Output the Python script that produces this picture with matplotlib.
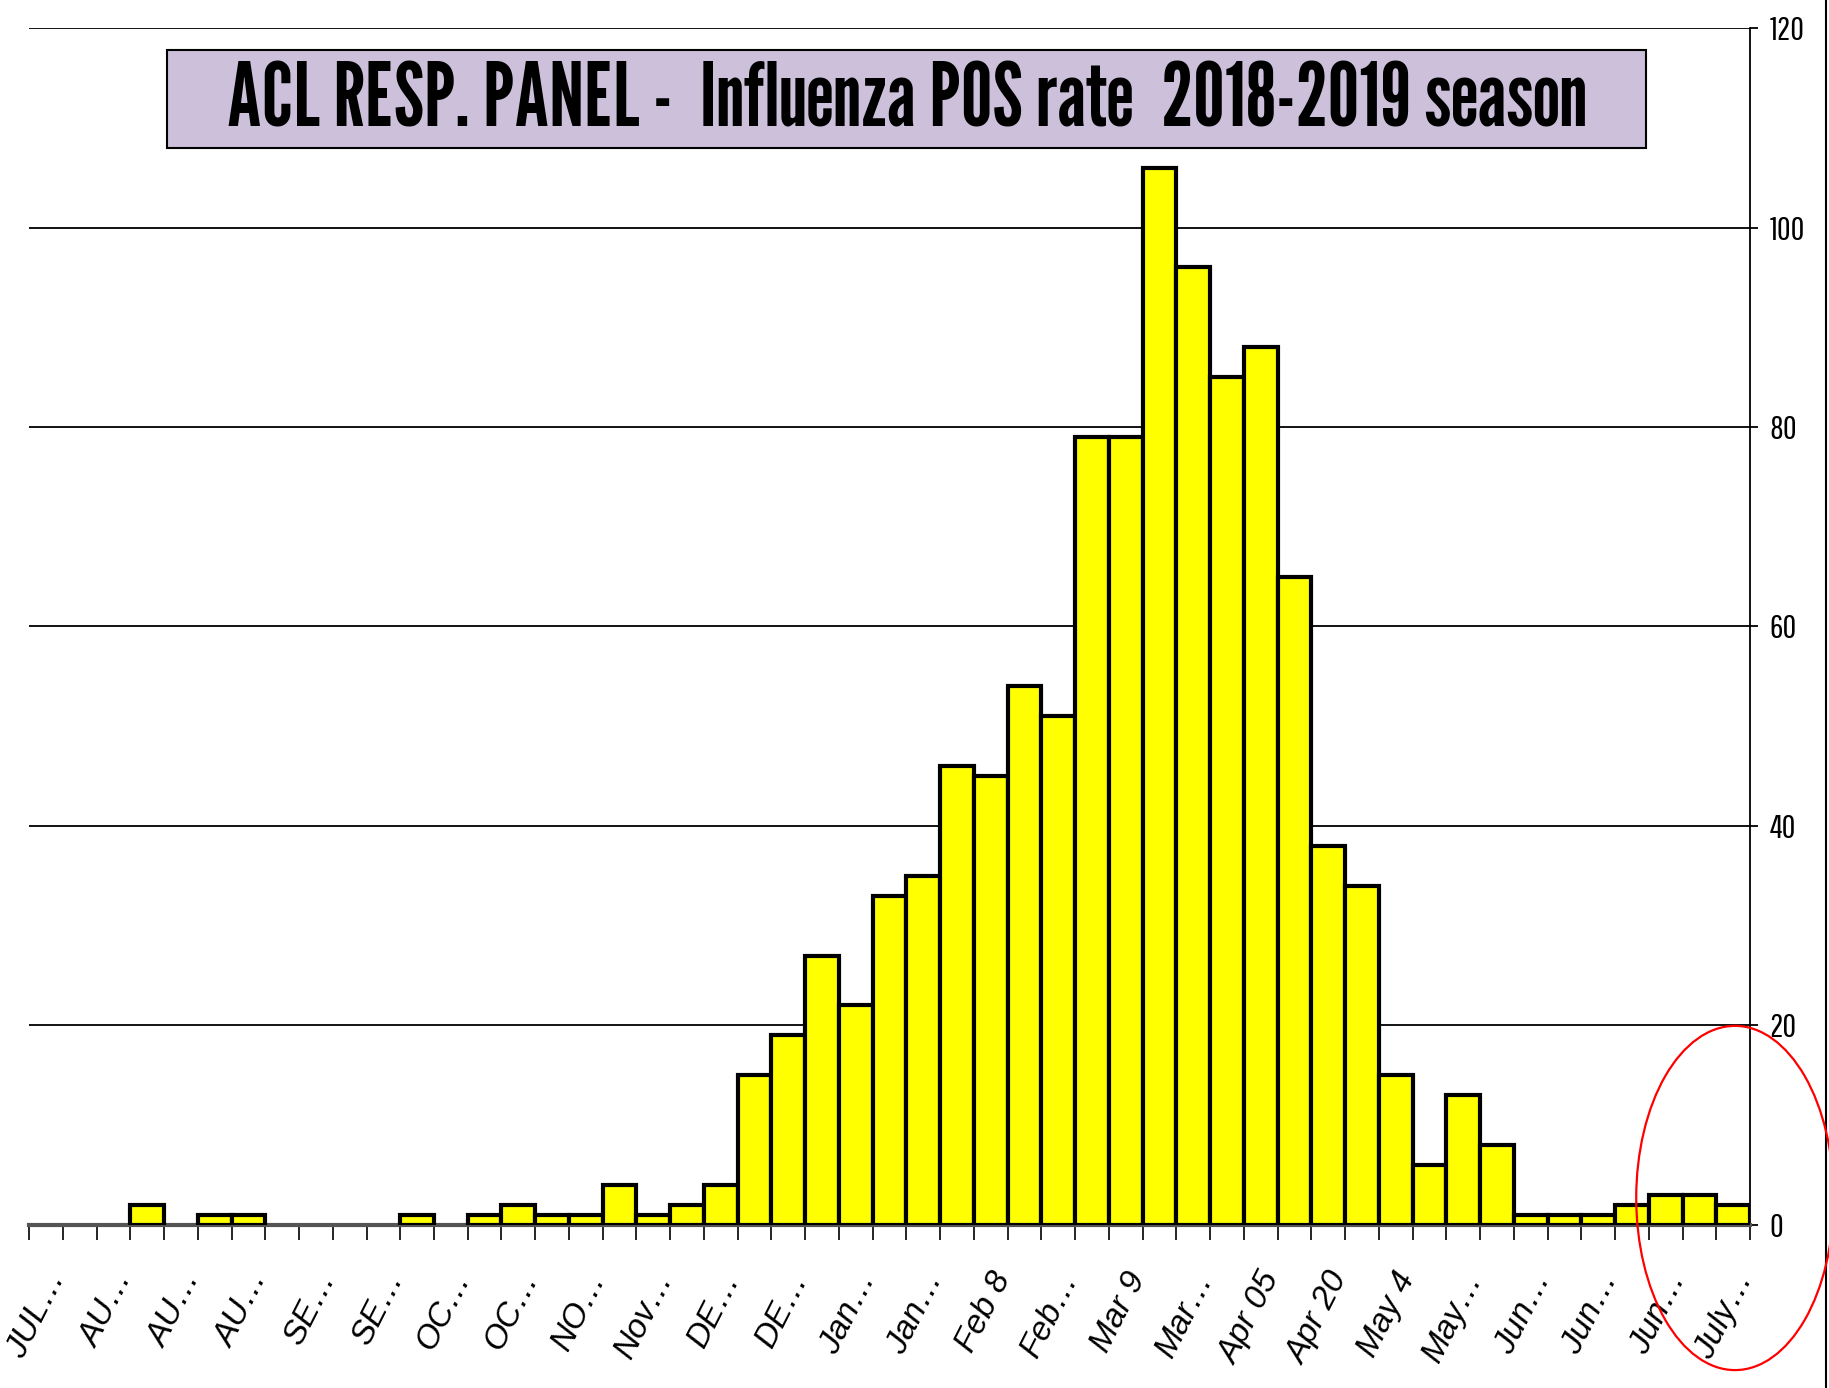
import matplotlib
matplotlib.use("Agg")
import matplotlib.pyplot as plt
from matplotlib.patches import Rectangle, Ellipse
from matplotlib.lines import Line2D

# weekly influenza positives, 2018-2019 season
values = [0, 0, 0, 2, 0, 1, 1, 0, 0, 0, 0, 1, 0, 1, 2, 1, 1, 4, 1, 2,
          4, 15, 19, 27, 22, 33, 35, 46, 45, 54, 51, 79, 79, 106, 96, 85, 88, 65, 38, 34,
          15, 6, 13, 8, 1, 1, 1, 2, 3, 3, 2]

week_labels = ['JUL…', 'AU…', 'AU…', 'AU…', 'SE…', 'SE…', 'OC…', 'OC…', 'NO…', 'Nov…',
               'DE…', 'DE…', 'Jan…', 'Jan…', 'Feb 8', 'Feb…', 'Mar 9', 'Mar…', 'Apr 05', 'Apr 20',
               'May 4', 'May…', 'Jun…', 'Jun…', 'Jun…', 'July…']

y_ticks = [0, 20, 40, 60, 80, 100, 120]

title = "ACL RESP. PANEL -  Influenza POS rate  2018-2019 season"

# condensed fonts to mimic the narrow slide fonts (fall back if missing)
title_font = ['League Gothic', 'Fira Sans Extra Condensed', 'DejaVu Sans']
tick_font = ['Pathway Gothic One', 'Oswald', 'DejaVu Sans']
label_font = ['Liberation Sans', 'DejaVu Sans']

fig = plt.figure(figsize=(18.29, 13.88), dpi=100)
ax = fig.add_axes([0.0159, 0.1175, 0.9409, 0.8623])

x = list(range(len(values)))
edges = ['black' if v > 0 else 'none' for v in values]
ax.bar(x, values, width=1.0, color='#FFFF00', edgecolor=edges, linewidth=3, zorder=3)

ax.set_xlim(-0.5, len(values) - 0.5)
ax.set_ylim(0, 120)

# horizontal grid
for t in y_ticks[1:]:
    ax.axhline(t, color='black', linewidth=1.3, zorder=1)

for s in ['left', 'top']:
    ax.spines[s].set_visible(False)
ax.spines['right'].set_color('black')
ax.spines['right'].set_linewidth(1.3)
ax.spines['bottom'].set_color('#555555')
ax.spines['bottom'].set_linewidth(3)

ax.yaxis.tick_right()
ax.set_yticks(y_ticks)
ax.set_yticklabels([str(t) for t in y_ticks], family=tick_font, fontsize=24)
ax.tick_params(axis='y', length=6, width=1.3, pad=8, colors='black')

# ticks between categories
ax.set_xticks([i - 0.5 for i in range(len(values) + 1)])
ax.set_xticklabels([])
ax.tick_params(axis='x', length=11, width=1.2, colors='black')

# labels every other week
for k, lab in enumerate(week_labels):
    pos = 2 * k - 0.05
    ax.text(pos, -4.2, lab, rotation=63, ha='right', va='top', rotation_mode='anchor',
            fontsize=24, style='italic', family=label_font, clip_on=False)

# title box
fig.patches.append(Rectangle((0.0913, 0.8934), 0.8086, 0.0706, transform=fig.transFigure,
                             facecolor='#CCC0DA', edgecolor='black', linewidth=1.5, zorder=5))
fig.text(0.496, 0.926, title, ha='center', va='center', fontsize=64,
         family=title_font, zorder=6)

# red annotation circle
fig.patches.append(Ellipse((0.9486, 0.1369), 0.108, 0.248, transform=fig.transFigure,
                           facecolor='none', edgecolor='red', linewidth=1.6, zorder=7))

# right border of the slide
fig.lines.append(Line2D([0.9985, 0.9985], [0, 1], transform=fig.transFigure,
                        color='black', linewidth=1.5))

fig.savefig('out.png', dpi=100)
